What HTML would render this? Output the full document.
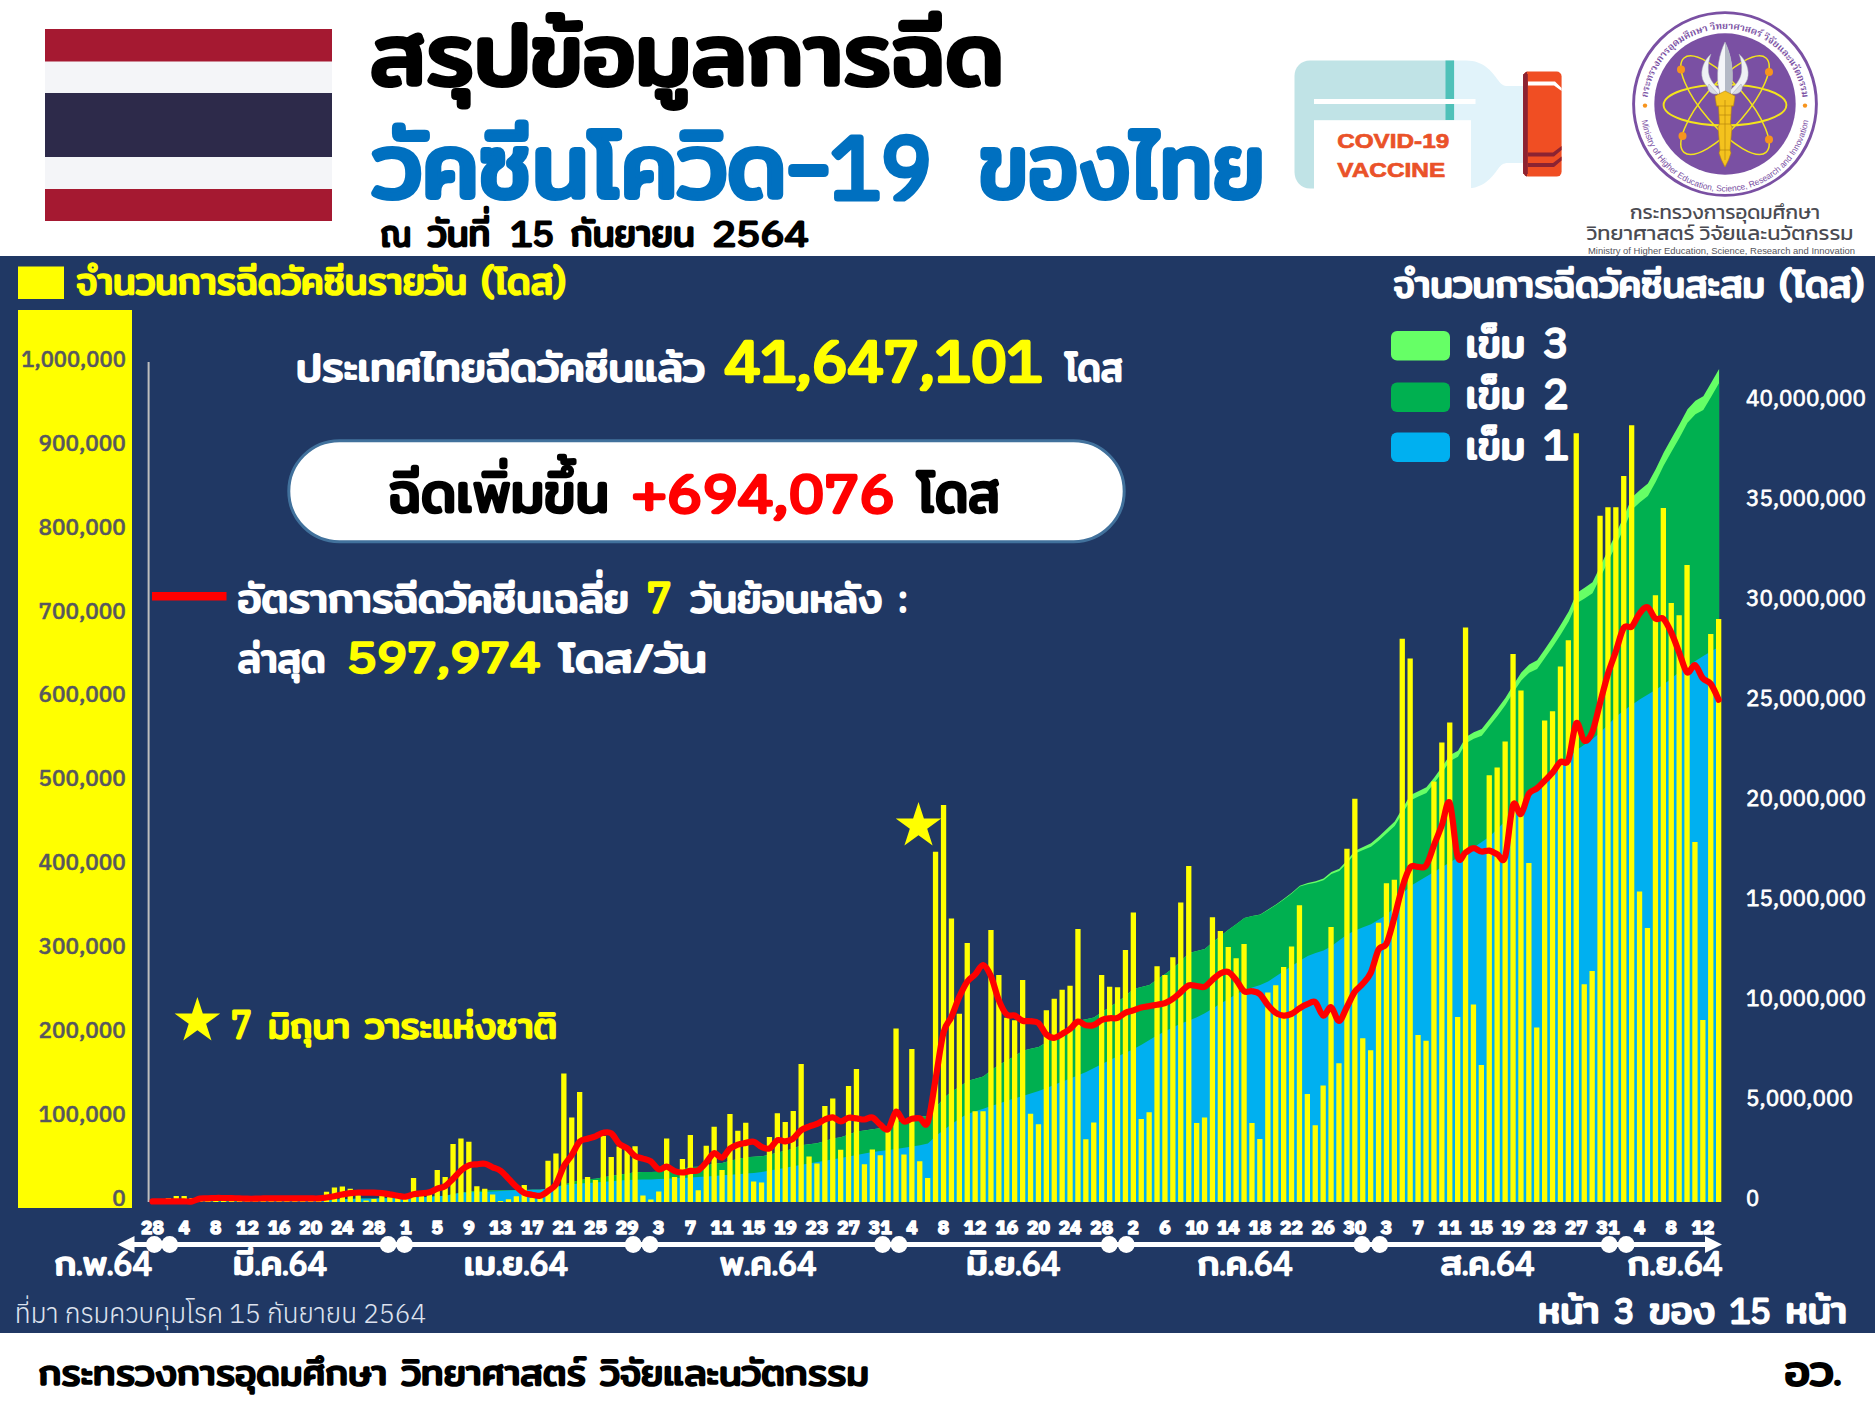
<!DOCTYPE html>
<html lang="th"><head><meta charset="utf-8"><title>สรุปข้อมูลการฉีดวัคซีนโควิด-19 ของไทย</title>
<style>html,body{margin:0;padding:0;background:#fff}svg{display:block}text{font-family:Anuphan,'IBM Plex Sans Thai','Noto Sans Thai','Liberation Sans',Loma,sans-serif;font-weight:700;white-space:pre;stroke-linejoin:round;stroke-linecap:round}.m{font-family:Mitr,Kanit,Prompt,Anuphan,'IBM Plex Sans Thai','Noto Sans Thai','Liberation Sans',Loma,sans-serif;font-weight:400}.d{font-family:Anuphan,'IBM Plex Sans Thai','Noto Sans Thai','Liberation Sans',Loma,sans-serif;font-weight:300}.k{font-family:Kanit,Prompt,Anuphan,'IBM Plex Sans Thai','Noto Sans Thai','Liberation Sans',Loma,sans-serif;font-weight:400}.w300{font-weight:300}.w400{font-weight:400}.w500{font-weight:500}.w600{font-weight:600}</style></head>
<body><svg width="1875" height="1407" viewBox="0 0 1875 1407">
<rect width="1875" height="1407" fill="#fff"/>
<rect x="0" y="256" width="1875" height="1077" fill="#203864"/>
<rect x="45" y="29" width="287" height="192" fill="#a51931"/>
<rect x="45" y="61.5" width="287" height="127.5" fill="#f4f5f8"/>
<rect x="45" y="93" width="287" height="64" fill="#2d2a4a"/>
<text x="370" y="85" font-size="86" fill="#000" class="m" stroke="#000" stroke-width="3.96" textLength="634" lengthAdjust="spacingAndGlyphs">สรุปข้อมูลการฉีด</text>
<text x="372.5" y="198" font-size="92" fill="#0070c0" class="m" stroke="#0070c0" stroke-width="4.23" textLength="559" lengthAdjust="spacingAndGlyphs">วัคซีนโควิด-<tspan class="d" font-size="84.6" stroke-width="7.11">19</tspan></text>
<text x="979" y="198" font-size="92" fill="#0070c0" class="m" stroke="#0070c0" stroke-width="4.23" textLength="286" lengthAdjust="spacingAndGlyphs">ของไทย</text>
<text x="380.6" y="246.4" font-size="37.5" fill="#000" class="m" stroke="#000" stroke-width="1.72" textLength="30.8" lengthAdjust="spacingAndGlyphs">ณ</text>
<text x="427.7" y="246.4" font-size="37.5" fill="#000" class="m" stroke="#000" stroke-width="1.72" textLength="62.7" lengthAdjust="spacingAndGlyphs">วันที่</text>
<text x="510.4" y="246.4" font-size="33.5" fill="#000" class="d" stroke="#000" stroke-width="2.82" textLength="43.9" lengthAdjust="spacingAndGlyphs">15</text>
<text x="570.6" y="246.4" font-size="37.5" fill="#000" class="m" stroke="#000" stroke-width="1.72" textLength="124.1" lengthAdjust="spacingAndGlyphs">กันยายน</text>
<text x="712.2" y="246.4" font-size="33.5" fill="#000" class="d" stroke="#000" stroke-width="2.82" textLength="96.5" lengthAdjust="spacingAndGlyphs">2564</text>
<rect x="18" y="266.5" width="46" height="32.5" fill="#ffff00"/>
<rect x="18" y="310" width="114" height="898" fill="#ffff00"/>
<text x="76" y="294" font-size="37.5" fill="#ffff00" class="m" stroke="#ffff00" stroke-width="1.72" textLength="490" lengthAdjust="spacingAndGlyphs">จำนวนการฉีดวัคซีนรายวัน (โดส)</text>
<text x="1393.2" y="296.7" font-size="37.5" fill="#fff" class="m" stroke="#fff" stroke-width="1.72" textLength="471" lengthAdjust="spacingAndGlyphs">จำนวนการฉีดวัคซีนสะสม (โดส)</text>
<rect x="147.6" y="362" width="2" height="840" fill="#bfbfbf"/>
<text x="125.8" y="1205.8" font-size="22.5" fill="#57575f" class="w500" stroke="#57575f" stroke-width="0.54" text-anchor="end">0</text>
<text x="125.8" y="1121.9" font-size="22.5" fill="#57575f" class="w500" stroke="#57575f" stroke-width="0.54" text-anchor="end">100,000</text>
<text x="125.8" y="1038" font-size="22.5" fill="#57575f" class="w500" stroke="#57575f" stroke-width="0.54" text-anchor="end">200,000</text>
<text x="125.8" y="954.1" font-size="22.5" fill="#57575f" class="w500" stroke="#57575f" stroke-width="0.54" text-anchor="end">300,000</text>
<text x="125.8" y="870.2" font-size="22.5" fill="#57575f" class="w500" stroke="#57575f" stroke-width="0.54" text-anchor="end">400,000</text>
<text x="125.8" y="786.3" font-size="22.5" fill="#57575f" class="w500" stroke="#57575f" stroke-width="0.54" text-anchor="end">500,000</text>
<text x="125.8" y="702.4" font-size="22.5" fill="#57575f" class="w500" stroke="#57575f" stroke-width="0.54" text-anchor="end">600,000</text>
<text x="125.8" y="618.5" font-size="22.5" fill="#57575f" class="w500" stroke="#57575f" stroke-width="0.54" text-anchor="end">700,000</text>
<text x="125.8" y="534.6" font-size="22.5" fill="#57575f" class="w500" stroke="#57575f" stroke-width="0.54" text-anchor="end">800,000</text>
<text x="125.8" y="450.7" font-size="22.5" fill="#57575f" class="w500" stroke="#57575f" stroke-width="0.54" text-anchor="end">900,000</text>
<text x="125.8" y="366.8" font-size="22.5" fill="#57575f" class="w500" stroke="#57575f" stroke-width="0.54" text-anchor="end" textLength="104.5" lengthAdjust="spacingAndGlyphs">1,000,000</text>
<text x="1746" y="1205.8" font-size="22" fill="#fff" class="w400" stroke="#fff" stroke-width="0.77">0</text>
<text x="1746" y="1105.9" font-size="22" fill="#fff" class="w400" stroke="#fff" stroke-width="0.77" textLength="107" lengthAdjust="spacingAndGlyphs">5,000,000</text>
<text x="1746" y="1005.9" font-size="22" fill="#fff" class="w400" stroke="#fff" stroke-width="0.77" textLength="120" lengthAdjust="spacingAndGlyphs">10,000,000</text>
<text x="1746" y="906" font-size="22" fill="#fff" class="w400" stroke="#fff" stroke-width="0.77" textLength="120" lengthAdjust="spacingAndGlyphs">15,000,000</text>
<text x="1746" y="806" font-size="22" fill="#fff" class="w400" stroke="#fff" stroke-width="0.77" textLength="120" lengthAdjust="spacingAndGlyphs">20,000,000</text>
<text x="1746" y="706.1" font-size="22" fill="#fff" class="w400" stroke="#fff" stroke-width="0.77" textLength="120" lengthAdjust="spacingAndGlyphs">25,000,000</text>
<text x="1746" y="606.2" font-size="22" fill="#fff" class="w400" stroke="#fff" stroke-width="0.77" textLength="120" lengthAdjust="spacingAndGlyphs">30,000,000</text>
<text x="1746" y="506.2" font-size="22" fill="#fff" class="w400" stroke="#fff" stroke-width="0.77" textLength="120" lengthAdjust="spacingAndGlyphs">35,000,000</text>
<text x="1746" y="406.3" font-size="22" fill="#fff" class="w400" stroke="#fff" stroke-width="0.77" textLength="120" lengthAdjust="spacingAndGlyphs">40,000,000</text>
<polygon fill="#66ff66" points="152.5,1202 152.5,1202 160.4,1202 168.3,1201.9 176.2,1201.7 184.1,1201.6 192.1,1201.5 200,1201.4 207.9,1201.4 215.8,1201.3 223.7,1201.2 231.6,1201.1 239.5,1201 247.4,1200.9 255.4,1200.9 263.3,1200.8 271.2,1200.7 279.1,1200.6 287,1200.5 294.9,1200.4 302.8,1200.3 310.7,1200.3 318.7,1200.2 326.6,1200 334.5,1199.6 342.4,1199.2 350.3,1198.9 358.2,1198.8 366.1,1198.7 374,1198.7 382,1198.5 389.9,1198.3 397.8,1198.2 405.7,1198.1 413.6,1197.5 421.5,1197.3 429.4,1197.1 437.3,1196.3 445.2,1195.7 453.2,1194.3 461.1,1192.8 469,1191.4 476.9,1191 484.8,1190.7 492.7,1190.5 500.6,1190.5 508.5,1190.4 516.5,1190.3 524.4,1189.9 532.3,1189.8 540.2,1189.7 548.1,1188.7 556,1187.6 563.9,1184.5 571.8,1182.5 579.8,1179.9 587.7,1179.3 595.6,1178.8 603.5,1177.2 611.4,1176.1 619.3,1174.8 627.2,1173.6 635.1,1172.2 643.1,1172.1 651,1172 658.9,1171.8 666.8,1170.3 674.7,1169.7 682.6,1168.7 690.5,1167.1 698.4,1166.8 706.3,1165.4 714.3,1163.7 722.2,1162.9 730.1,1160.8 738,1159.1 745.9,1157.2 753.8,1156.7 761.7,1156.3 769.6,1154.7 777.6,1152.6 785.5,1150.7 793.4,1148.6 801.3,1145.3 809.2,1144.2 817.1,1143.3 825,1141 832.9,1138.6 840.9,1137.3 848.8,1134.6 856.7,1131.4 864.6,1130.5 872.5,1129.3 880.4,1128.2 888.3,1126.4 896.2,1122.3 904.2,1121.2 912.1,1117.6 920,1116.6 927.9,1116 935.8,1107.7 943.7,1098.3 951.6,1091.5 959.5,1087.1 967.4,1080.9 975.4,1078.8 983.3,1076.6 991.2,1070.2 999.1,1064.8 1007,1060.4 1014.9,1056.1 1022.8,1050.8 1030.7,1048.7 1038.7,1046.9 1046.6,1042.3 1054.5,1037.5 1062.4,1032.4 1070.3,1027.3 1078.2,1020.8 1086.1,1019.3 1094,1017.4 1102,1012 1109.9,1006.9 1117.8,1001.8 1125.7,995.8 1133.6,989 1141.5,987 1149.4,984.9 1157.3,979.3 1165.3,973.9 1173.2,968.1 1181.1,960.9 1189,953 1196.9,951.1 1204.8,949.1 1212.7,942.3 1220.6,935.9 1228.5,929.8 1236.5,924 1244.4,917.9 1252.3,916 1260.2,914.5 1268.1,909.6 1276,904.4 1283.9,898.8 1291.8,892.8 1299.8,885.7 1307.7,883.1 1315.6,881.3 1323.5,878.6 1331.4,872 1339.3,868.7 1347.2,860.3 1355.1,850.8 1363.1,846.9 1371,843.3 1378.9,836.6 1386.8,829.1 1394.7,821.4 1402.6,808 1410.5,795.1 1418.4,791.2 1426.4,787.3 1434.3,777.4 1442.2,766.4 1450.1,755.1 1458,750.7 1465.9,737 1473.8,732.3 1481.7,729.1 1489.6,718.9 1497.6,708.6 1505.5,697.7 1513.4,684.7 1521.3,672.5 1529.2,664.5 1537.1,660.3 1545,648.9 1552.9,637.2 1560.9,624.5 1568.8,611.2 1576.7,592.9 1584.6,587.7 1592.5,582.3 1600.4,566 1608.3,549.5 1616.2,533 1624.2,515.7 1632.1,497.3 1640,489.9 1647.9,483.4 1655.8,469 1663.7,452.5 1671.6,438.3 1679.5,424.3 1687.5,409.2 1695.4,400.7 1703.3,396.3 1711.2,382.8 1719.1,369 1719.1,1202"/>
<polygon fill="#00b050" points="152.5,1202 152.5,1202 160.4,1202 168.3,1201.9 176.2,1201.7 184.1,1201.6 192.1,1201.5 200,1201.4 207.9,1201.4 215.8,1201.3 223.7,1201.2 231.6,1201.1 239.5,1201 247.4,1200.9 255.4,1200.9 263.3,1200.8 271.2,1200.7 279.1,1200.6 287,1200.5 294.9,1200.4 302.8,1200.3 310.7,1200.3 318.7,1200.2 326.6,1200 334.5,1199.6 342.4,1199.2 350.3,1198.9 358.2,1198.8 366.1,1198.7 374,1198.7 382,1198.5 389.9,1198.3 397.8,1198.2 405.7,1198.1 413.6,1197.5 421.5,1197.3 429.4,1197.1 437.3,1196.3 445.2,1195.7 453.2,1194.3 461.1,1192.8 469,1191.4 476.9,1191 484.8,1190.7 492.7,1190.5 500.6,1190.5 508.5,1190.4 516.5,1190.3 524.4,1189.9 532.3,1189.8 540.2,1189.7 548.1,1188.7 556,1187.6 563.9,1184.5 571.8,1182.5 579.8,1179.9 587.7,1179.3 595.6,1178.8 603.5,1177.2 611.4,1176.1 619.3,1174.8 627.2,1173.6 635.1,1172.2 643.1,1172.1 651,1172 658.9,1171.8 666.8,1170.3 674.7,1169.7 682.6,1168.7 690.5,1167.1 698.4,1166.8 706.3,1165.4 714.3,1163.7 722.2,1162.9 730.1,1160.8 738,1159.1 745.9,1157.2 753.8,1156.7 761.7,1156.3 769.6,1154.7 777.6,1152.6 785.5,1150.7 793.4,1148.6 801.3,1145.3 809.2,1144.2 817.1,1143.3 825,1141 832.9,1138.6 840.9,1137.3 848.8,1134.6 856.7,1131.4 864.6,1130.5 872.5,1129.3 880.4,1128.2 888.3,1126.4 896.2,1122.3 904.2,1121.2 912.1,1117.6 920,1116.6 927.9,1116 935.8,1107.7 943.7,1098.3 951.6,1091.5 959.5,1087.1 967.4,1080.9 975.4,1078.8 983.3,1076.6 991.2,1070.2 999.1,1064.8 1007,1060.4 1014.9,1056.1 1022.8,1050.8 1030.7,1048.7 1038.7,1046.9 1046.6,1042.3 1054.5,1037.5 1062.4,1032.4 1070.3,1027.3 1078.2,1020.8 1086.1,1019.3 1094,1017.4 1102,1012 1109.9,1006.9 1117.8,1001.8 1125.7,995.8 1133.6,989 1141.5,987 1149.4,984.9 1157.3,979.3 1165.3,973.9 1173.2,968.1 1181.1,960.9 1189,953 1196.9,951.1 1204.8,949.1 1212.7,942.3 1220.6,935.9 1228.5,929.8 1236.5,924 1244.4,917.9 1252.3,916.1 1260.2,914.8 1268.1,909.9 1276,904.9 1283.9,899.4 1291.8,893.4 1299.8,886.5 1307.7,884.2 1315.6,882.7 1323.5,880.2 1331.4,873.9 1339.3,870.9 1347.2,862.9 1355.1,853.6 1363.1,850.1 1371,846.8 1378.9,840.6 1386.8,833.3 1394.7,826 1402.6,813 1410.5,800.4 1418.4,796.6 1426.4,792.9 1434.3,783 1442.2,772.3 1450.1,761 1458,756.7 1465.9,743.2 1473.8,738.7 1481.7,735.7 1489.6,725.8 1497.6,715.7 1505.5,705 1513.4,692.2 1521.3,680.4 1529.2,672.7 1537.1,668.9 1545,657.8 1552.9,646.5 1560.9,634.2 1568.8,621.2 1576.7,603.3 1584.6,598.4 1592.5,593.2 1600.4,577.2 1608.3,561 1616.2,544.8 1624.2,527.7 1632.1,509.5 1640,502.3 1647.9,496 1655.8,481.8 1663.7,465.6 1671.6,451.6 1679.5,437.7 1687.5,422.7 1695.4,414.3 1703.3,410.1 1711.2,396.7 1719.1,383 1719.1,1202"/>
<polygon fill="#00b0f0" points="152.5,1202 152.5,1202 160.4,1202 168.3,1201.9 176.2,1201.7 184.1,1201.6 192.1,1201.6 200,1201.6 207.9,1201.5 215.8,1201.5 223.7,1201.5 231.6,1201.4 239.5,1201.4 247.4,1201.3 255.4,1201.3 263.3,1201.3 271.2,1201.2 279.1,1201.2 287,1201.2 294.9,1201.1 302.8,1201.1 310.7,1201 318.7,1201 326.6,1200.5 334.5,1199.9 342.4,1199.3 350.3,1198.9 358.2,1198.8 366.1,1198.7 374,1198.7 382,1198.5 389.9,1198.3 397.8,1198.2 405.7,1198.1 413.6,1197.5 421.5,1197.3 429.4,1197.1 437.3,1196.3 445.2,1195.7 453.2,1194.3 461.1,1192.8 469,1192.3 476.9,1192 484.8,1191.7 492.7,1191.4 500.6,1191.1 508.5,1190.5 516.5,1190.3 524.4,1189.9 532.3,1189.8 540.2,1189.7 548.1,1188.7 556,1187.6 563.9,1185 571.8,1184.2 579.8,1183.6 587.7,1183 595.6,1182.4 603.5,1181.8 611.4,1181.2 619.3,1180.6 627.2,1180 635.1,1179.7 643.1,1179.6 651,1179.5 658.9,1179.1 666.8,1178.7 674.7,1178.3 682.6,1177.9 690.5,1177.5 698.4,1177.1 706.3,1176.5 714.3,1175.9 722.2,1175.3 730.1,1174.7 738,1174.2 745.9,1173.6 753.8,1173 761.7,1172 769.6,1170.6 777.6,1169.2 785.5,1167.7 793.4,1166.3 801.3,1164.8 809.2,1163.4 817.1,1162.1 825,1160.7 832.9,1159.3 840.9,1157.9 848.8,1156.4 856.7,1154.9 864.6,1153.5 872.5,1152.1 880.4,1151.1 888.3,1150 896.2,1149 904.2,1147.8 912.1,1146.5 920,1145.2 927.9,1143.4 935.8,1136 943.7,1129.9 951.6,1124.2 959.5,1118.5 967.4,1113.9 975.4,1111.3 983.3,1108.7 991.2,1106 999.1,1103.4 1007,1100.8 1014.9,1098.3 1022.8,1095.9 1030.7,1093.5 1038.7,1091.1 1046.6,1088 1054.5,1084.8 1062.4,1081.6 1070.3,1078.5 1078.2,1075.3 1086.1,1071.9 1094,1067.9 1102,1064 1109.9,1060.1 1117.8,1056.2 1125.7,1052.7 1133.6,1049.1 1141.5,1044.7 1149.4,1039.9 1157.3,1035.2 1165.3,1031.2 1173.2,1027.3 1181.1,1023.6 1189,1020.4 1196.9,1017.3 1204.8,1013.2 1212.7,1008.4 1220.6,1003.6 1228.5,998.9 1236.5,994.1 1244.4,989.9 1252.3,987.5 1260.2,985.1 1268.1,981.4 1276,976.3 1283.9,971.1 1291.8,966 1299.8,960.8 1307.7,955.9 1315.6,953.1 1323.5,950.4 1331.4,946.3 1339.3,940.3 1347.2,934.4 1355.1,930.5 1363.1,927.3 1371,924.2 1378.9,919.4 1386.8,914.7 1394.7,907.1 1402.6,893.4 1410.5,886 1418.4,881.2 1426.4,876.5 1434.3,871.7 1442.2,867 1450.1,862.3 1458,857.6 1465.9,852.8 1473.8,847.6 1481.7,842 1489.6,836.5 1497.6,828.7 1505.5,820.8 1513.4,812.9 1521.3,805 1529.2,797.1 1537.1,789.6 1545,782.5 1552.9,775.4 1560.9,767 1568.8,758.2 1576.7,749.9 1584.6,744.4 1592.5,738.9 1600.4,732.3 1608.3,724.4 1616.2,716.5 1624.2,710.3 1632.1,704.8 1640,699.3 1647.9,694.6 1655.8,689.8 1663.7,684.5 1671.6,678.2 1679.5,671.8 1687.5,666.3 1695.4,661.1 1703.3,655.9 1711.2,651.3 1719.1,646.7 1719.1,1202"/>
<path fill="#ffff00" d="M157.8 1202v-1h5.3v1zM165.7 1202v-4h5.3v4zM173.6 1202v-6h5.3v6zM181.5 1202v-6h5.3v6zM189.4 1202v-4h5.3v4zM197.3 1202v-2h5.3v2zM205.2 1202v-2h5.3v2zM213.1 1202v-4h5.3v4zM221 1202v-4h5.3v4zM228.9 1202v-5h5.3v5zM236.9 1202v-4h5.3v4zM244.8 1202v-2h5.3v2zM252.7 1202v-2h5.3v2zM260.6 1202v-4h5.3v4zM268.5 1202v-4h5.3v4zM276.4 1202v-5h5.3v5zM284.3 1202v-4h5.3v4zM292.2 1202v-4h5.3v4zM300.1 1202v-2h5.3v2zM308.1 1202v-2h5.3v2zM316 1202v-4h5.3v4zM323.9 1202v-10.3h5.3v10.3zM331.8 1202v-14.5h5.3v14.5zM339.7 1202v-15.6h5.3v15.6zM347.6 1202v-13.2h5.3v13.2zM355.5 1202v-6.7h5.3v6.7zM363.4 1202v-1.6h5.3v1.6zM371.3 1202v-3h5.3v3zM379.2 1202v-6.7h5.3v6.7zM387.2 1202v-6.7h5.3v6.7zM395.1 1202v-6.2h5.3v6.2zM403 1202v-6.2h5.3v6.2zM410.9 1202v-23.9h5.3v23.9zM418.8 1202v-8.3h5.3v8.3zM426.7 1202v-9.7h5.3v9.7zM434.6 1202v-31.9h5.3v31.9zM442.5 1202v-25h5.3v25zM450.4 1202v-58h5.3v58zM458.3 1202v-63.4h5.3v63.4zM466.2 1202v-60.2h5.3v60.2zM474.2 1202v-15.7h5.3v15.7zM482.1 1202v-13.2h5.3v13.2zM490 1202v-7.6h5.3v7.6zM497.9 1202v-1h5.3v1zM505.8 1202v-2.8h5.3v2.8zM513.7 1202v-5.8h5.3v5.8zM521.6 1202v-16.9h5.3v16.9zM529.5 1202v-4h5.3v4zM537.4 1202v-5h5.3v5zM545.4 1202v-41.2h5.3v41.2zM553.3 1202v-48.5h5.3v48.5zM561.2 1202v-128.4h5.3v128.4zM569.1 1202v-84.6h5.3v84.6zM577 1202v-110.1h5.3v110.1zM584.9 1202v-25h5.3v25zM592.8 1202v-21.9h5.3v21.9zM600.7 1202v-65.9h5.3v65.9zM608.6 1202v-45h5.3v45zM616.5 1202v-55.5h5.3v55.5zM624.5 1202v-53h5.3v53zM632.4 1202v-55.8h5.3v55.8zM640.3 1202v-6.5h5.3v6.5zM648.2 1202v-2.4h5.3v2.4zM656.1 1202v-10.4h5.3v10.4zM664 1202v-63.4h5.3v63.4zM671.9 1202v-25h5.3v25zM679.8 1202v-42.9h5.3v42.9zM687.7 1202v-67.1h5.3v67.1zM695.6 1202v-11.7h5.3v11.7zM703.6 1202v-56.2h5.3v56.2zM711.5 1202v-75.2h5.3v75.2zM719.4 1202v-31.9h5.3v31.9zM727.3 1202v-88.1h5.3v88.1zM735.2 1202v-71.3h5.3v71.3zM743.1 1202v-79.3h5.3v79.3zM751 1202v-20.4h5.3v20.4zM758.9 1202v-19.4h5.3v19.4zM766.8 1202v-65h5.3v65zM774.7 1202v-88.8h5.3v88.8zM782.6 1202v-80h5.3v80zM790.6 1202v-91.1h5.3v91.1zM798.5 1202v-137.9h5.3v137.9zM806.4 1202v-45.4h5.3v45.4zM814.3 1202v-38.4h5.3v38.4zM822.2 1202v-96h5.3v96zM830.1 1202v-103.6h5.3v103.6zM838 1202v-52.3h5.3v52.3zM845.9 1202v-116.1h5.3v116.1zM853.8 1202v-133.1h5.3v133.1zM861.8 1202v-37.7h5.3v37.7zM869.7 1202v-52.6h5.3v52.6zM877.6 1202v-46.7h5.3v46.7zM885.5 1202v-72h5.3v72zM893.4 1202v-173.6h5.3v173.6zM901.3 1202v-47.5h5.3v47.5zM909.2 1202v-153h5.3v153zM917.1 1202v-40.7h5.3v40.7zM925 1202v-23.9h5.3v23.9zM932.9 1202v-350.3h5.3v350.3zM940.9 1202v-396.9h5.3v396.9zM948.8 1202v-283.4h5.3v283.4zM956.7 1202v-188.2h5.3v188.2zM964.6 1202v-258.9h5.3v258.9zM972.5 1202v-90.7h5.3v90.7zM980.4 1202v-90.7h5.3v90.7zM988.3 1202v-271.9h5.3v271.9zM996.2 1202v-227.1h5.3v227.1zM1004.1 1202v-184.3h5.3v184.3zM1012 1202v-181.8h5.3v181.8zM1020 1202v-221.9h5.3v221.9zM1027.9 1202v-88.2h5.3v88.2zM1035.8 1202v-77.8h5.3v77.8zM1043.7 1202v-191.8h5.3v191.8zM1051.6 1202v-203.3h5.3v203.3zM1059.5 1202v-212.2h5.3v212.2zM1067.4 1202v-216.3h5.3v216.3zM1075.3 1202v-273h5.3v273zM1083.2 1202v-62.8h5.3v62.8zM1091.1 1202v-79.6h5.3v79.6zM1099 1202v-227.1h5.3v227.1zM1107 1202v-215.2h5.3v215.2zM1114.9 1202v-214.8h5.3v214.8zM1122.8 1202v-252.1h5.3v252.1zM1130.7 1202v-289.5h5.3v289.5zM1138.6 1202v-83.1h5.3v83.1zM1146.5 1202v-89.8h5.3v89.8zM1154.4 1202v-235.8h5.3v235.8zM1162.3 1202v-227.1h5.3v227.1zM1170.2 1202v-244.8h5.3v244.8zM1178.1 1202v-299.5h5.3v299.5zM1186.1 1202v-336.1h5.3v336.1zM1194 1202v-78.9h5.3v78.9zM1201.9 1202v-84.4h5.3v84.4zM1209.8 1202v-284.8h5.3v284.8zM1217.7 1202v-271h5.3v271zM1225.6 1202v-255h5.3v255zM1233.5 1202v-243.7h5.3v243.7zM1241.4 1202v-258h5.3v258zM1249.3 1202v-78.9h5.3v78.9zM1257.2 1202v-63.1h5.3v63.1zM1265.2 1202v-209.6h5.3v209.6zM1273.1 1202v-216.8h5.3v216.8zM1281 1202v-235h5.3v235zM1288.9 1202v-255.4h5.3v255.4zM1296.8 1202v-296.7h5.3v296.7zM1304.7 1202v-108.1h5.3v108.1zM1312.6 1202v-76.7h5.3v76.7zM1320.5 1202v-116.6h5.3v116.6zM1328.4 1202v-275h5.3v275zM1336.3 1202v-138.8h5.3v138.8zM1344.3 1202v-353.2h5.3v353.2zM1352.2 1202v-403.3h5.3v403.3zM1360.1 1202v-163.7h5.3v163.7zM1368 1202v-151.8h5.3v151.8zM1375.9 1202v-279.3h5.3v279.3zM1383.8 1202v-318.7h5.3v318.7zM1391.7 1202v-322.3h5.3v322.3zM1399.6 1202v-563.2h5.3v563.2zM1407.5 1202v-543.4h5.3v543.4zM1415.4 1202v-166.9h5.3v166.9zM1423.4 1202v-161.2h5.3v161.2zM1431.3 1202v-420.4h5.3v420.4zM1439.2 1202v-459.4h5.3v459.4zM1447.1 1202v-479.4h5.3v479.4zM1455 1202v-185.1h5.3v185.1zM1462.9 1202v-574.5h5.3v574.5zM1470.8 1202v-197.4h5.3v197.4zM1478.7 1202v-137.1h5.3v137.1zM1486.6 1202v-426.8h5.3v426.8zM1494.5 1202v-434.6h5.3v434.6zM1502.5 1202v-460.4h5.3v460.4zM1510.4 1202v-547.9h5.3v547.9zM1518.3 1202v-511.6h5.3v511.6zM1526.2 1202v-338.9h5.3v338.9zM1534.1 1202v-174.4h5.3v174.4zM1542 1202v-481.6h5.3v481.6zM1549.9 1202v-490.7h5.3v490.7zM1557.8 1202v-535.5h5.3v535.5zM1565.7 1202v-561.7h5.3v561.7zM1573.6 1202v-768.7h5.3v768.7zM1581.6 1202v-217.7h5.3v217.7zM1589.5 1202v-231.1h5.3v231.1zM1597.4 1202v-686.2h5.3v686.2zM1605.3 1202v-694.8h5.3v694.8zM1613.2 1202v-694.8h5.3v694.8zM1621.1 1202v-726.1h5.3v726.1zM1629 1202v-776.8h5.3v776.8zM1636.9 1202v-310.5h5.3v310.5zM1644.8 1202v-274h5.3v274zM1652.8 1202v-606.7h5.3v606.7zM1660.7 1202v-693.9h5.3v693.9zM1668.6 1202v-599.1h5.3v599.1zM1676.5 1202v-586.7h5.3v586.7zM1684.4 1202v-636.9h5.3v636.9zM1692.3 1202v-360h5.3v360zM1700.2 1202v-181.9h5.3v181.9zM1708.1 1202v-567.9h5.3v567.9zM1716 1202v-583h5.3v583z"/>
<path fill="none" stroke="#ff0000" stroke-width="6.2" stroke-linejoin="round" stroke-linecap="round" d="M152.5 1201.4C153.8 1201.4 157.8 1201.4 160.4 1201.4C163 1201.4 165.7 1201.4 168.3 1201.4C171 1201.4 173.6 1201.4 176.2 1201.4C178.9 1201.4 181.5 1201.4 184.1 1201.4C186.8 1201.4 189.4 1201.9 192.1 1201.4C194.7 1200.9 197.3 1199.1 200 1198.6C202.6 1198.1 205.2 1198.5 207.9 1198.4C210.5 1198.3 213.1 1198.1 215.8 1198C218.4 1197.9 221.1 1198 223.7 1198C226.3 1198 229 1198.1 231.6 1198.1C234.2 1198.2 236.9 1198.3 239.5 1198.4C242.1 1198.5 244.8 1198.7 247.4 1198.7C250.1 1198.8 252.7 1198.8 255.3 1198.7C258 1198.7 260.6 1198.5 263.2 1198.4C265.9 1198.4 268.5 1198.5 271.1 1198.4C273.8 1198.4 276.4 1198.3 279.1 1198.3C281.7 1198.3 284.3 1198.4 287 1198.4C289.6 1198.5 292.2 1198.4 294.9 1198.4C297.5 1198.4 300.2 1198.4 302.8 1198.4C305.4 1198.4 308.1 1198.4 310.7 1198.4C313.3 1198.4 316 1198.6 318.6 1198.4C321.2 1198.3 323.9 1197.9 326.5 1197.5C329.2 1197.2 331.8 1196.7 334.4 1196.2C337.1 1195.7 339.7 1195 342.3 1194.5C345 1194 347.6 1193.5 350.2 1193.2C352.9 1192.9 355.5 1192.6 358.2 1192.5C360.8 1192.4 363.4 1192.6 366.1 1192.6C368.7 1192.6 371.3 1192.6 374 1192.7C376.6 1192.8 379.3 1193 381.9 1193.2C384.5 1193.5 387.2 1193.9 389.8 1194.4C392.4 1194.8 395.1 1195.3 397.7 1195.7C400.3 1196.1 403 1196.9 405.6 1196.7C408.3 1196.5 410.9 1194.8 413.5 1194.2C416.2 1193.7 418.8 1193.6 421.4 1193.3C424.1 1193 426.7 1193.1 429.4 1192.3C432 1191.6 434.6 1189.8 437.3 1188.7C439.9 1187.7 442.5 1187.8 445.2 1186.1C447.8 1184.4 450.4 1181.3 453.1 1178.7C455.7 1176.1 458.4 1172.8 461 1170.5C463.6 1168.3 466.3 1166.4 468.9 1165.4C471.5 1164.3 474.2 1164.6 476.8 1164.3C479.4 1164 482.1 1163.3 484.7 1163.8C487.4 1164.3 490 1166.1 492.6 1167.3C495.3 1168.4 497.9 1168.8 500.5 1170.7C503.2 1172.6 505.8 1175.9 508.4 1178.6C511.1 1181.3 513.7 1184.4 516.4 1186.8C519 1189.2 521.6 1191.7 524.3 1193C526.9 1194.3 529.5 1194.2 532.2 1194.7C534.8 1195.1 537.5 1196.4 540.1 1195.8C542.7 1195.2 545.4 1193 548 1191C550.6 1189.1 553.3 1188.4 555.9 1184.3C558.5 1180.1 561.2 1171.2 563.8 1166.3C566.5 1161.4 569.1 1159.2 571.7 1155.1C574.4 1151 577 1144.5 579.6 1141.7C582.3 1139 584.9 1139.6 587.5 1138.7C590.2 1137.8 592.8 1137.3 595.5 1136.3C598.1 1135.3 600.7 1133.3 603.4 1132.8C606 1132.3 608.6 1131.5 611.3 1133.3C613.9 1135.1 616.6 1141.2 619.2 1143.7C621.8 1146.2 624.5 1146.2 627.1 1148.2C629.7 1150.3 632.4 1154.3 635 1156C637.6 1157.7 640.3 1157.7 642.9 1158.6C645.6 1159.5 648.2 1159.6 650.8 1161.4C653.5 1163.2 656.1 1168.5 658.7 1169.3C661.4 1170.2 664 1166.4 666.6 1166.7C669.3 1167 671.9 1170.1 674.6 1171.1C677.2 1172 679.8 1172.5 682.5 1172.5C685.1 1172.5 687.7 1171.3 690.4 1170.9C693 1170.5 695.7 1171.6 698.3 1170.2C700.9 1168.8 703.6 1165.3 706.2 1162.5C708.8 1159.6 711.5 1154 714.1 1153.2C716.7 1152.4 719.4 1158.5 722 1157.7C724.7 1157 727.3 1150.9 729.9 1148.7C732.6 1146.5 735.2 1145.6 737.8 1144.6C740.5 1143.7 743.1 1143.4 745.8 1142.9C748.4 1142.4 751 1141 753.7 1141.7C756.3 1142.3 758.9 1145.8 761.6 1146.9C764.2 1148 766.8 1149.5 769.5 1148.4C772.1 1147.3 774.8 1141.4 777.4 1140.2C780 1139.1 782.7 1141.7 785.3 1141.4C787.9 1141.1 790.6 1140.4 793.2 1138.6C795.8 1136.7 798.5 1132.2 801.1 1130.2C803.8 1128.2 806.4 1127.7 809 1126.6C811.7 1125.6 814.3 1125.1 816.9 1123.9C819.6 1122.7 822.2 1120.6 824.9 1119.5C827.5 1118.4 830.1 1117.1 832.8 1117.4C835.4 1117.7 838 1121.3 840.7 1121.3C843.3 1121.4 845.9 1118.2 848.6 1117.8C851.2 1117.3 853.9 1118.1 856.5 1118.4C859.1 1118.7 861.8 1119.7 864.4 1119.5C867 1119.4 869.7 1116.7 872.3 1117.5C874.9 1118.3 877.6 1122.6 880.2 1124.6C882.9 1126.5 885.5 1131.2 888.1 1129.1C890.8 1126.9 893.4 1113 896 1111.7C898.7 1110.5 901.3 1120.4 904 1121.5C906.6 1122.7 909.2 1119.2 911.9 1118.7C914.5 1118.2 917.1 1117.7 919.8 1118.3C922.4 1118.9 925 1128.9 927.7 1122.4C930.3 1115.8 933 1094 935.6 1079C938.2 1064 940.9 1042.9 943.5 1032.6C946.1 1022.2 948.8 1022.9 951.4 1016.9C954 1010.9 956.7 1002.7 959.3 996.8C962 990.9 964.6 985.4 967.2 981.7C969.9 978 972.5 977.3 975.1 974.5C977.8 971.7 980.4 964.7 983.1 965C985.7 965.3 988.3 970.3 991 976.2C993.6 982.1 996.2 994 998.9 1000.4C1001.5 1006.8 1004.1 1012.1 1006.8 1014.6C1009.4 1017.1 1012.1 1014.5 1014.7 1015.5C1017.3 1016.5 1020 1019.9 1022.6 1020.8C1025.2 1021.7 1027.9 1020.8 1030.5 1021.2C1033.1 1021.5 1035.8 1020.8 1038.4 1023C1041.1 1025.2 1043.7 1032 1046.3 1034.4C1049 1036.9 1051.6 1037.9 1054.2 1037.8C1056.9 1037.7 1059.5 1035.3 1062.2 1033.9C1064.8 1032.4 1067.4 1031 1070.1 1028.9C1072.7 1026.9 1075.3 1022.2 1078 1021.6C1080.6 1021 1083.2 1024.7 1085.9 1025.3C1088.5 1025.8 1091.2 1025.9 1093.8 1025C1096.4 1024.1 1099.1 1021.1 1101.7 1020C1104.3 1018.8 1107 1018.6 1109.6 1018.3C1112.2 1017.9 1114.9 1018.8 1117.5 1017.9C1120.2 1017 1122.8 1014 1125.4 1012.8C1128.1 1011.5 1130.7 1011.3 1133.3 1010.4C1136 1009.5 1138.6 1008.2 1141.2 1007.5C1143.9 1006.8 1146.5 1006.5 1149.2 1006.1C1151.8 1005.6 1154.4 1005.3 1157.1 1004.8C1159.7 1004.3 1162.3 1004.1 1165 1003.1C1167.6 1002.1 1170.3 1000.7 1172.9 998.8C1175.5 997 1178.2 994.3 1180.8 992.1C1183.4 989.8 1186.1 986.4 1188.7 985.4C1191.3 984.4 1194 985.8 1196.6 986C1199.3 986.2 1201.9 987.8 1204.5 986.8C1207.2 985.7 1209.8 982 1212.4 979.8C1215.1 977.6 1217.7 974.8 1220.3 973.5C1223 972.2 1225.6 971 1228.3 972C1230.9 973.1 1233.5 976.8 1236.2 980C1238.8 983.2 1241.4 989.3 1244.1 991.2C1246.7 993 1249.4 990.7 1252 991.2C1254.6 991.7 1257.3 991.9 1259.9 994.2C1262.5 996.5 1265.2 1001.9 1267.8 1005C1270.4 1008 1273.1 1010.9 1275.7 1012.7C1278.4 1014.5 1281 1015.4 1283.6 1015.6C1286.3 1015.8 1288.9 1015.1 1291.5 1013.9C1294.2 1012.7 1296.8 1010 1299.5 1008.4C1302.1 1006.7 1304.7 1005.2 1307.4 1004.2C1310 1003.2 1312.6 1000.4 1315.3 1002.2C1317.9 1004.1 1320.5 1014.7 1323.2 1015.5C1325.8 1016.4 1328.5 1006.3 1331.1 1007.2C1333.7 1008.1 1336.4 1021 1339 1021C1341.6 1020.9 1344.3 1011.9 1346.9 1007C1349.5 1002.1 1352.2 995.6 1354.8 991.8C1357.5 987.9 1360.1 986.9 1362.7 983.8C1365.4 980.7 1368 978.7 1370.6 973.1C1373.3 967.4 1375.9 954.8 1378.5 949.8C1381.2 944.9 1383.8 949 1386.5 943.6C1389.1 938.2 1391.7 926.8 1394.4 917.4C1397 908 1399.6 895.7 1402.3 887.4C1404.9 879 1407.6 870.8 1410.2 867.4C1412.8 864 1415.5 867.2 1418.1 866.9C1420.7 866.6 1423.4 869.2 1426 865.6C1428.6 862 1431.3 852.1 1433.9 845.4C1436.6 838.7 1439.2 832.4 1441.8 825.3C1444.5 818.2 1447.1 797.6 1449.7 802.9C1452.4 808.1 1455 848.6 1457.7 856.9C1460.3 865.1 1462.9 853.9 1465.6 852.4C1468.2 851 1470.8 848.2 1473.5 848.1C1476.1 847.9 1478.7 851.1 1481.4 851.5C1484 852 1486.7 850.2 1489.3 850.6C1491.9 851.1 1494.6 853.1 1497.2 854.2C1499.8 855.2 1502.5 865.1 1505.1 856.9C1507.7 848.7 1510.4 812.2 1513 805C1515.7 797.9 1518.3 815.9 1520.9 814C1523.6 812.2 1526.2 798.1 1528.8 793.8C1531.5 789.6 1534.1 790.7 1536.8 788.5C1539.4 786.3 1542 783.3 1544.7 780.7C1547.3 778 1549.9 775.8 1552.6 772.6C1555.2 769.5 1557.8 764 1560.5 761.9C1563.1 759.8 1565.8 766.4 1568.4 759.9C1571 753.5 1573.7 726.5 1576.3 723.2C1578.9 720 1581.6 739 1584.2 740.5C1586.8 742.1 1589.5 738.7 1592.1 732.4C1594.8 726.2 1597.4 712.9 1600 703.2C1602.7 693.5 1605.3 682.7 1607.9 674C1610.6 665.4 1613.2 659 1615.9 651.3C1618.5 643.6 1621.1 631.9 1623.8 627.8C1626.4 623.7 1629 629 1631.7 626.6C1634.3 624.2 1636.9 616.6 1639.6 613.4C1642.2 610.2 1644.9 606.4 1647.5 607.3C1650.1 608.1 1652.8 616.7 1655.4 618.6C1658 620.5 1660.7 616.4 1663.3 618.7C1665.9 621 1668.6 626.8 1671.2 632.4C1673.9 638 1676.5 645.7 1679.1 652.3C1681.8 659 1684.4 670.2 1687 672.3C1689.7 674.5 1692.3 664.2 1695 665.2C1697.6 666.3 1700.2 675.3 1702.9 678.4C1705.5 681.5 1708.1 680.4 1710.8 683.9C1713.4 687.5 1717.4 697.1 1718.7 699.8"/>
<text x="296" y="381.2" font-size="38.6" fill="#fff" class="m" stroke="#fff" stroke-width="1.78" textLength="409" lengthAdjust="spacingAndGlyphs">ประเทศไทยฉีดวัคซีนแล้ว</text>
<text x="724.6" y="380.5" font-size="54.4" fill="#ffff00" class="d" stroke="#ffff00" stroke-width="4.57" textLength="318" lengthAdjust="spacingAndGlyphs">41,647,101</text>
<text x="1065" y="381.2" font-size="38.6" fill="#fff" class="m" stroke="#fff" stroke-width="1.78" textLength="58" lengthAdjust="spacingAndGlyphs">โดส</text>
<rect x="288.8" y="440.7" width="835.4" height="101" rx="50.5" fill="#fff" stroke="#41719c" stroke-width="3"/>
<text x="388.5" y="511.7" font-size="55" fill="#000" class="m" stroke="#000" stroke-width="2.53" textLength="220.5" lengthAdjust="spacingAndGlyphs">ฉีดเพิ่มขึ้น</text>
<text x="631.6" y="511.7" font-size="51" fill="#ff0000" class="d" stroke="#ff0000" stroke-width="4.28" textLength="263.4" lengthAdjust="spacingAndGlyphs">+694,076</text>
<text x="917" y="511.7" font-size="55" fill="#000" class="m" stroke="#000" stroke-width="2.53" textLength="83" lengthAdjust="spacingAndGlyphs">โดส</text>
<rect x="152" y="592" width="74.5" height="8.5" fill="#ff0000"/>
<text x="237.6" y="612" font-size="39.5" fill="#fff" class="m" stroke="#fff" stroke-width="1.82" textLength="391.6" lengthAdjust="spacingAndGlyphs">อัตราการฉีดวัคซีนเฉลี่ย</text>
<text x="646.7" y="612" font-size="42" fill="#ffff00" class="d" stroke="#ffff00" stroke-width="3.53" textLength="25.1" lengthAdjust="spacingAndGlyphs">7</text>
<text x="690.8" y="612" font-size="39.5" fill="#fff" class="m" stroke="#fff" stroke-width="1.82" textLength="191.5" lengthAdjust="spacingAndGlyphs">วันย้อนหลัง</text>
<text x="899" y="612" font-size="39.5" fill="#fff" class="m" stroke="#fff" stroke-width="1.82">:</text>
<text x="237.6" y="671.5" font-size="39.5" fill="#fff" class="m" stroke="#fff" stroke-width="1.82" textLength="88.3" lengthAdjust="spacingAndGlyphs">ล่าสุด</text>
<text x="346.9" y="671.5" font-size="42" fill="#ffff00" class="d" stroke="#ffff00" stroke-width="3.53" textLength="193.5" lengthAdjust="spacingAndGlyphs">597,974</text>
<text x="559" y="671.5" font-size="39.5" fill="#fff" class="m" stroke="#fff" stroke-width="1.82" textLength="147.9" lengthAdjust="spacingAndGlyphs">โดส/วัน</text>
<rect x="1391" y="331" width="59" height="29.5" rx="6" fill="#66ff66"/>
<rect x="1391" y="382.5" width="59" height="29.5" rx="6" fill="#00b050"/>
<rect x="1391" y="432.5" width="59" height="29.5" rx="6" fill="#00b0f0"/>
<text x="1465.8" y="356.6" font-size="38.5" fill="#fff" class="m" stroke="#fff" stroke-width="1.77" textLength="59.4" lengthAdjust="spacingAndGlyphs">เข็ม</text>
<text x="1543.5" y="356.6" font-size="39.3" fill="#fff" class="d" stroke="#fff" stroke-width="3.30" textLength="25" lengthAdjust="spacingAndGlyphs">3</text>
<text x="1465.8" y="408.1" font-size="38.5" fill="#fff" class="m" stroke="#fff" stroke-width="1.77" textLength="59.4" lengthAdjust="spacingAndGlyphs">เข็ม</text>
<text x="1543.5" y="408.1" font-size="39.3" fill="#fff" class="d" stroke="#fff" stroke-width="3.30" textLength="25" lengthAdjust="spacingAndGlyphs">2</text>
<text x="1465.8" y="458.8" font-size="38.5" fill="#fff" class="m" stroke="#fff" stroke-width="1.77" textLength="59.4" lengthAdjust="spacingAndGlyphs">เข็ม</text>
<text x="1543.5" y="458.8" font-size="39.3" fill="#fff" class="d" stroke="#fff" stroke-width="3.30" textLength="25" lengthAdjust="spacingAndGlyphs">1</text>
<polygon fill="#ffff00" points="918.5,802 923.9,818.6 941.3,818.6 927.2,828.8 932.6,845.4 918.5,835.2 904.4,845.4 909.8,828.8 895.7,818.6 913.1,818.6"/>
<polygon fill="#ffff00" points="197.4,997 202.8,1013.6 220.2,1013.6 206.1,1023.8 211.5,1040.4 197.4,1030.2 183.3,1040.4 188.7,1023.8 174.6,1013.6 192,1013.6"/>
<text x="231" y="1038.2" font-size="37.5" fill="#ffff00" class="d" stroke="#ffff00" stroke-width="3.15" textLength="21" lengthAdjust="spacingAndGlyphs">7</text>
<text x="268" y="1038.2" font-size="35.5" fill="#ffff00" class="m" stroke="#ffff00" stroke-width="1.63" textLength="82" lengthAdjust="spacingAndGlyphs">มิถุนา</text>
<text x="365" y="1038.2" font-size="35.5" fill="#ffff00" class="m" stroke="#ffff00" stroke-width="1.63" textLength="192" lengthAdjust="spacingAndGlyphs">วาระแห่งชาติ</text>
<g font-size="19" fill="#fff" text-anchor="middle" class="d" stroke="#fff" stroke-width="1.5"><text x="152.5" y="1234.2">28</text><text x="184.1" y="1234.2">4</text><text x="215.8" y="1234.2">8</text><text x="247.4" y="1234.2">12</text><text x="279.1" y="1234.2">16</text><text x="310.7" y="1234.2">20</text><text x="342.3" y="1234.2">24</text><text x="374" y="1234.2">28</text><text x="405.6" y="1234.2">1</text><text x="437.3" y="1234.2">5</text><text x="468.9" y="1234.2">9</text><text x="500.5" y="1234.2">13</text><text x="532.2" y="1234.2">17</text><text x="563.8" y="1234.2">21</text><text x="595.5" y="1234.2">25</text><text x="627.1" y="1234.2">29</text><text x="658.7" y="1234.2">3</text><text x="690.4" y="1234.2">7</text><text x="722" y="1234.2">11</text><text x="753.7" y="1234.2">15</text><text x="785.3" y="1234.2">19</text><text x="816.9" y="1234.2">23</text><text x="848.6" y="1234.2">27</text><text x="880.2" y="1234.2">31</text><text x="911.9" y="1234.2">4</text><text x="943.5" y="1234.2">8</text><text x="975.1" y="1234.2">12</text><text x="1006.8" y="1234.2">16</text><text x="1038.4" y="1234.2">20</text><text x="1070.1" y="1234.2">24</text><text x="1101.7" y="1234.2">28</text><text x="1133.3" y="1234.2">2</text><text x="1165" y="1234.2">6</text><text x="1196.6" y="1234.2">10</text><text x="1228.3" y="1234.2">14</text><text x="1259.9" y="1234.2">18</text><text x="1291.5" y="1234.2">22</text><text x="1323.2" y="1234.2">26</text><text x="1354.8" y="1234.2">30</text><text x="1386.5" y="1234.2">3</text><text x="1418.1" y="1234.2">7</text><text x="1449.7" y="1234.2">11</text><text x="1481.4" y="1234.2">15</text><text x="1513" y="1234.2">19</text><text x="1544.7" y="1234.2">23</text><text x="1576.3" y="1234.2">27</text><text x="1607.9" y="1234.2">31</text><text x="1639.6" y="1234.2">4</text><text x="1671.2" y="1234.2">8</text><text x="1702.9" y="1234.2">12</text></g>
<path d="M130 1244.5H1708" stroke="#fff" stroke-width="5" fill="none"/>
<path d="M117.5 1244.5l17 -8.5v17z M1722 1244.5l-17 -8.5v17z" fill="#fff"/>
<g fill="#fff"><circle cx="154.3" cy="1244.5" r="8.4"/><circle cx="169.7" cy="1244.5" r="8.4"/><circle cx="388.1" cy="1244.5" r="8.4"/><circle cx="404.5" cy="1244.5" r="8.4"/><circle cx="633.2" cy="1244.5" r="8.4"/><circle cx="650" cy="1244.5" r="8.4"/><circle cx="882.6" cy="1244.5" r="8.4"/><circle cx="899" cy="1244.5" r="8.4"/><circle cx="1109.3" cy="1244.5" r="8.4"/><circle cx="1126.3" cy="1244.5" r="8.4"/><circle cx="1362" cy="1244.5" r="8.4"/><circle cx="1379.8" cy="1244.5" r="8.4"/><circle cx="1609.2" cy="1244.5" r="8.4"/><circle cx="1626.2" cy="1244.5" r="8.4"/></g>
<text x="54.5" y="1275.3" font-size="34" fill="#fff" class="m" stroke="#fff" stroke-width="1.56" textLength="97.5" lengthAdjust="spacingAndGlyphs">ก.พ.<tspan class="d" font-size="31.3" stroke-width="2.63">64</tspan></text>
<text x="233" y="1275.3" font-size="34" fill="#fff" class="m" stroke="#fff" stroke-width="1.56" textLength="94" lengthAdjust="spacingAndGlyphs">มี.ค.<tspan class="d" font-size="31.3" stroke-width="2.63">64</tspan></text>
<text x="464" y="1275.3" font-size="34" fill="#fff" class="m" stroke="#fff" stroke-width="1.56" textLength="104" lengthAdjust="spacingAndGlyphs">เม.ย.<tspan class="d" font-size="31.3" stroke-width="2.63">64</tspan></text>
<text x="719.8" y="1275.3" font-size="34" fill="#fff" class="m" stroke="#fff" stroke-width="1.56" textLength="96.5" lengthAdjust="spacingAndGlyphs">พ.ค.<tspan class="d" font-size="31.3" stroke-width="2.63">64</tspan></text>
<text x="966.3" y="1275.3" font-size="34" fill="#fff" class="m" stroke="#fff" stroke-width="1.56" textLength="94" lengthAdjust="spacingAndGlyphs">มิ.ย.<tspan class="d" font-size="31.3" stroke-width="2.63">64</tspan></text>
<text x="1197.5" y="1275.3" font-size="34" fill="#fff" class="m" stroke="#fff" stroke-width="1.56" textLength="95" lengthAdjust="spacingAndGlyphs">ก.ค.<tspan class="d" font-size="31.3" stroke-width="2.63">64</tspan></text>
<text x="1440.5" y="1275.3" font-size="34" fill="#fff" class="m" stroke="#fff" stroke-width="1.56" textLength="94" lengthAdjust="spacingAndGlyphs">ส.ค.<tspan class="d" font-size="31.3" stroke-width="2.63">64</tspan></text>
<text x="1627.5" y="1275.3" font-size="34" fill="#fff" class="m" stroke="#fff" stroke-width="1.56" textLength="95" lengthAdjust="spacingAndGlyphs">ก.ย.<tspan class="d" font-size="31.3" stroke-width="2.63">64</tspan></text>
<text x="14.8" y="1322.7" font-size="26.5" fill="#dde2ee" class="w300" textLength="411.5" lengthAdjust="spacingAndGlyphs">ที่มา กรมควบคุมโรค 15 กันยายน 2564</text>
<text x="1538" y="1323" font-size="37" fill="#fff" class="m" stroke="#fff" stroke-width="1.70" textLength="309" lengthAdjust="spacingAndGlyphs">หน้า <tspan class="d" font-size="34" stroke-width="2.86">3</tspan> ของ <tspan class="d" font-size="34" stroke-width="2.86">15</tspan> หน้า</text>
<text x="38.5" y="1384.6" font-size="35.5" fill="#000" class="m" stroke="#000" stroke-width="1.63" textLength="830.5" lengthAdjust="spacingAndGlyphs">กระทรวงการอุดมศึกษา วิทยาศาสตร์ วิจัยและนวัตกรรม</text>
<text x="1784.5" y="1385" font-size="40" fill="#000" class="m" stroke="#000" stroke-width="1.84" textLength="57" lengthAdjust="spacingAndGlyphs">อว.</text>
<g>
<path fill="#e1f3fa" d="M1452 60.5H1466C1484 60.5 1492 72 1498 80C1501 84 1503 86 1508 86H1524V163H1508C1503 163 1501 165 1498 169C1492 177 1484 188.5 1466 188.5H1452Z"/>
<path fill="#c0e3e6" d="M1310 60.5H1454V188.5H1310C1301 188.5 1294.5 181 1294.5 172V76C1294.5 67 1301 60.5 1310 60.5Z"/>
<rect x="1445.5" y="60.5" width="8.6" height="59.5" fill="#4fc1b9"/>
<rect x="1314" y="99" width="161.5" height="5" fill="#fff"/>
<rect x="1314" y="120.2" width="157" height="70" fill="#fff"/>
<text x="1337.2" y="147.8" font-size="20.6" fill="#ea5229" stroke="#ea5229" stroke-width="0.7" style="font-family:'Liberation Sans',sans-serif" textLength="112" lengthAdjust="spacingAndGlyphs">COVID-19</text>
<text x="1337.2" y="176.5" font-size="20.6" fill="#ea5229" stroke="#ea5229" stroke-width="0.7" style="font-family:'Liberation Sans',sans-serif" textLength="108" lengthAdjust="spacingAndGlyphs">VACCINE</text>
<rect x="1523.2" y="71.6" width="38.4" height="105" rx="5" fill="#f04e23"/>
<path fill="#8c2332" d="M1528.2 71.6H1527V176.6H1528.2C1525.5 176.6 1523.2 174 1523.2 171.6V76.6C1523.2 74 1525.5 71.6 1528.2 71.6Z"/>
<rect x="1523.2" y="74" width="4.6" height="100" fill="#8c2332"/>
<path fill="#fff" d="M1528 81.5H1555L1561.6 88V91L1554 85.6H1528Z"/>
<path fill="#8c2332" d="M1528 152.5H1553L1561.6 146V150L1554 156.5H1528Z"/>
<path fill="#8c2332" d="M1528 163H1553L1561.6 156.5V160.5L1554 167H1528Z"/>
</g>
<g>
<circle cx="1725" cy="104" r="91.4" fill="#fff" stroke="#7a50a3" stroke-width="2.9"/>
<circle cx="1725" cy="104" r="70.7" fill="#7a50a3"/>
<defs><path id="arcT" d="M1647 107A78 78 0 0 1 1803 107"/><path id="arcB" d="M1640.5 107A84.5 84.5 0 0 0 1809.5 107"/></defs>
<text font-size="9.6" fill="#7a50a3" style="font-family:'Noto Serif Thai',Sarabun,'Liberation Serif',serif;font-weight:700"><textPath href="#arcT" startOffset="50%" text-anchor="middle" textLength="226" lengthAdjust="spacingAndGlyphs">กระทรวงการอุดมศึกษา วิทยาศาสตร์ วิจัยและนวัตกรรม</textPath></text>
<text font-size="8.6" fill="#7a50a3" style="font-family:'Liberation Sans',sans-serif;font-weight:400"><textPath href="#arcB" startOffset="50%" text-anchor="middle" textLength="238" lengthAdjust="spacingAndGlyphs">Ministry of Higher Education, Science, Research and Innovation</textPath></text>
<circle cx="1645" cy="105.6" r="2.2" fill="#f7941d"/><circle cx="1805" cy="105.6" r="2.2" fill="#f7941d"/>
<g fill="none" stroke="#f3e41c" stroke-width="1.5">
<ellipse cx="1725" cy="105" rx="61.4" ry="20.5" stroke-width="1.9"/>
<ellipse cx="1725" cy="105.2" rx="62.5" ry="21.5" transform="rotate(49 1725 105.2)"/>
<ellipse cx="1725" cy="105.2" rx="62.5" ry="21.5" transform="rotate(-49 1725 105.2)"/>
</g>
<circle cx="1681.0" cy="69.4" r="4" fill="#f7941d"/>
<circle cx="1769.0" cy="71.9" r="4" fill="#f7941d"/>
<circle cx="1682.5" cy="136.1" r="4" fill="#f7941d"/>
<circle cx="1769.0" cy="139.6" r="4" fill="#f7941d"/>
<g stroke="#a4a9b6" stroke-width="0.5">
<path fill="#eef0f4" d="M1711 54C1704 60 1700 70 1702.5 79C1705 86 1712 91 1719 95L1720 90C1715 86 1709.5 80 1708.5 72C1707.8 65 1709 59 1711 54Z"/>
<path fill="#d9dce4" d="M1709 84C1706 88 1709 93 1714 94L1718 94Z"/>
<path fill="#eef0f4" d="M1739 54C1746 60 1750 70 1747.5 79C1745 86 1738 91 1731 95L1730 90C1735 86 1740.5 80 1741.5 72C1742.2 65 1741 59 1739 54Z"/>
<path fill="#d9dce4" d="M1741 84C1744 88 1741 93 1736 94L1732 94Z"/>
<path fill="#f4f5f8" d="M1725 42C1731 54 1733.5 70 1732 84L1729.5 96H1720.5L1718 84C1716.5 70 1719 54 1725 42Z"/>
</g>
<path fill="#b4b9c5" d="M1725 42C1731 54 1733.5 70 1732 84L1729.5 96H1725Z"/>
<path fill="#f4c21e" stroke="#b8860b" stroke-width="0.6" d="M1715 96L1725 91L1735 96L1733.5 106H1731.5L1730.5 124L1732 127L1730 150L1731 153L1728.5 160L1725 167L1721.5 160L1719 153L1720 150L1718 127L1719.5 124L1718.5 106H1716.5Z"/>
<path fill="none" stroke="#b8860b" stroke-width="0.7" d="M1716.5 106H1733.5M1719 115H1731M1719.5 124H1730.5M1720 150H1730M1725 100V160"/>
</g>
<text x="1725" y="218.5" font-size="20" fill="#4b4b52" text-anchor="middle" class="k" textLength="190" lengthAdjust="spacingAndGlyphs">กระทรวงการอุดมศึกษา</text>
<text x="1720" y="239.5" font-size="20" fill="#4b4b52" text-anchor="middle" class="k" textLength="267" lengthAdjust="spacingAndGlyphs">วิทยาศาสตร์ วิจัยและนวัตกรรม</text>
<text x="1588" y="253.8" font-size="8.6" fill="#55555c" style="font-family:'Liberation Sans',sans-serif;font-weight:400" textLength="267" lengthAdjust="spacingAndGlyphs">Ministry of Higher Education, Science, Research and Innovation</text>
</svg></body></html>
